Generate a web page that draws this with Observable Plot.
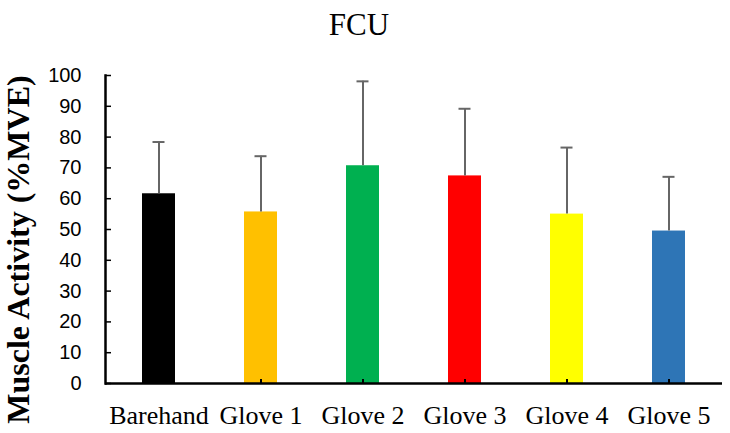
<!DOCTYPE html>
<html>
<head>
<meta charset="utf-8">
<script src="https://cdn.jsdelivr.net/npm/d3@7"></script>
<script src="https://cdn.jsdelivr.net/npm/@observablehq/plot@0.6"></script>
<style>
  html, body { margin: 0; padding: 0; background: #fff; }
</style>
</head>
<body>
<div id="chart"></div>
<script>
const categories = ["Barehand", "Glove 1", "Glove 2", "Glove 3", "Glove 4", "Glove 5"];
const means = [61.6, 55.7, 70.7, 67.4, 55.0, 49.5];
const sds = [16.8, 18.1, 27.4, 21.8, 21.6, 17.6];
const colors = ["#000000", "#FFC000", "#00B050", "#FF0000", "#FFFF00", "#2E75B6"];
const yTicks = [0, 10, 20, 30, 40, 50, 60, 70, 80, 90, 100];
const title = "FCU";
const yLabel = "Muscle Activity (%MVE)";

const data = categories.map((c, i) => ({cat: c, mean: means[i], sd: sds[i], top: means[i] + sds[i], color: colors[i]}));

const chart = Plot.plot({
  width: 730,
  height: 433,
  marginLeft: 105,
  marginRight: 8,
  marginTop: 75,
  marginBottom: 50,
  style: {background: "#fff", overflow: "visible"},
  x: {domain: categories, paddingInner: 0.68, paddingOuter: 0.34},
  y: {domain: [0, 100]},
  color: {type: "identity"},
  marks: [
    Plot.barY(data, {x: "cat", y: "mean", fill: "color"}),
    Plot.ruleX(data, {x: "cat", y1: "mean", y2: "top", stroke: "#666666", strokeWidth: 2}),
    Plot.tickY(data, {x: "cat", y: "top", stroke: "#666666", strokeWidth: 2, insetLeft: 10.5, insetRight: 10.5}),
    Plot.axisY(yTicks, {tickSize: 0, tickPadding: 24, fontSize: 20, fontFamily: "Liberation Sans", fill: "#000", label: null}),
    Plot.axisY(yTicks, {tickSize: -6, text: null, stroke: "#000", strokeWidth: 1.5, label: null}),
    Plot.axisX({tickSize: 0, tickPadding: 22, fontSize: 26, fontFamily: "Liberation Serif", fill: "#000", label: null}),
    Plot.axisX({tickSize: -4, text: null, stroke: "#000", strokeWidth: 2, label: null}),
    Plot.frame({anchor: "left", stroke: "#000", strokeWidth: 2.5}),
    Plot.ruleY([0], {stroke: "#000", strokeWidth: 2.5}),
    Plot.text([title], {frameAnchor: "top", lineAnchor: "bottom", dx: -55, dy: -41, fontSize: 31, fontFamily: "Liberation Serif", fill: "#000"}),
    Plot.text([yLabel], {frameAnchor: "left", textAnchor: "middle", lineAnchor: "middle", rotate: -90, dx: -87, dy: 20, fontSize: 32, fontWeight: "bold", fontFamily: "Liberation Serif", fill: "#000"})
  ]
});
document.getElementById("chart").appendChild(chart);
</script>
</body>
</html>
